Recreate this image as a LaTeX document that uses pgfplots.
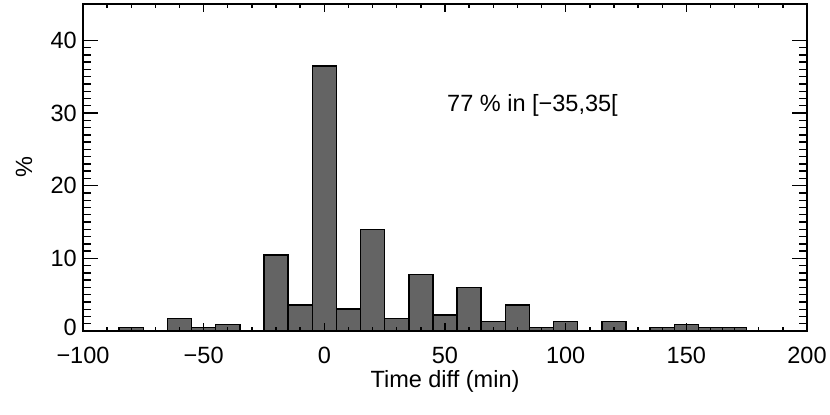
\documentclass[border=0pt]{standalone}
\usepackage{fontspec}
\setmainfont{Liberation Sans}
\usepackage{pgfplots}
\pgfplotsset{compat=1.18}
\definecolor{barfill}{RGB}{100,100,100}

\begin{document}
\fontsize{11.8}{14}\selectfont
\begin{tikzpicture}
\useasboundingbox (-41.5bp,-42bp) rectangle (373.5bp,165.5bp);
\begin{axis}[
    scale only axis,
    width=362bp,
    height=163.5bp,
    xmin=-100, xmax=200,
    ymin=0, ymax=45,
    xtick={-100,-50,...,200},
    xticklabels={−100,−50,0,50,100,150,200},
    minor x tick num=4,
    ytick={0,10,...,40},
    yticklabels={\raisebox{3.5bp}{0},10,20,30,40},
    minor y tick num=9,
    tick pos=both,
    tick align=inside,
    axis on top,
    xtick style={/pgfplots/major tick length=4bp, /pgfplots/minor tick length=2bp},
    ytick style={/pgfplots/major tick length=7.5bp, /pgfplots/minor tick length=4bp},
    every tick/.append style={black, line width=0.7bp},
    axis line style={line width=0.9bp},
    xticklabel style={yshift=-4bp},
    yticklabel style={xshift=1bp},
    xlabel={Time diff (min)},
    ylabel={\%},
    xlabel style={at={(rel axis cs:0.5,0)}, anchor=center, yshift=-25bp},
    ylabel style={at={([xshift=-29.5bp]rel axis cs:0,0.5)}, anchor=center},
]
% histogram, bins of 10 min, left edges
\addplot[ybar interval, fill=barfill, draw=black, line width=0.75bp] coordinates {
    (-85,0.45)
    (-75,0)
    (-65,1.75)
    (-55,0.45)
    (-45,0.9)
    (-35,0)
    (-25,10.45)
    (-15,3.6)
    (-5,36.5)
    (5,3.05)
    (15,14.0)
    (25,1.75)
    (35,7.8)
    (45,2.2)
    (55,6.0)
    (65,1.3)
    (75,3.6)
    (85,0.45)
    (95,1.3)
    (105,0)
    (115,1.3)
    (125,0)
    (135,0.45)
    (145,0.9)
    (155,0.45)
    (165,0.45)
    (175,0)
};
\node[anchor=west] at (axis cs:47.5,31.1) {77 \% in [−35,35[};
\end{axis}
\end{tikzpicture}
\end{document}
